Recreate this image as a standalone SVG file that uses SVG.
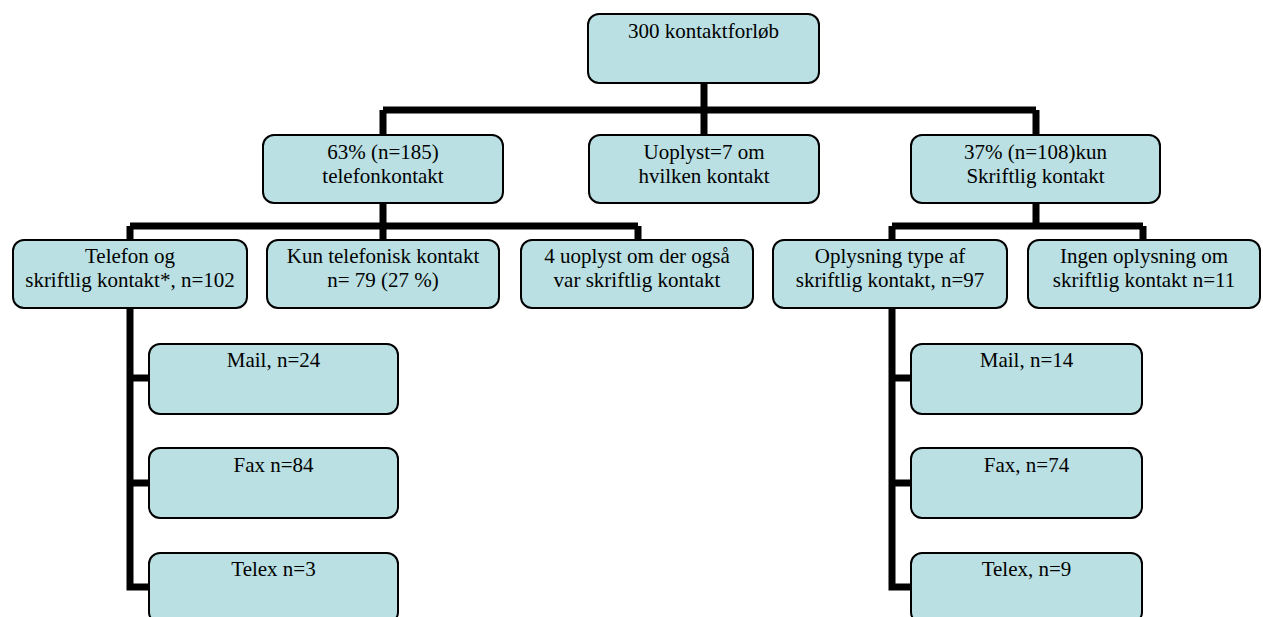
<svg xmlns="http://www.w3.org/2000/svg" width="1263" height="617" viewBox="0 0 1263 617">
<style>
.box{fill:#BAE0E3;stroke:#000;stroke-width:2}
.t{font-family:'Liberation Serif','DejaVu Serif',serif;font-size:21px;fill:#000;text-anchor:middle}
.c{fill:none;stroke:#000;stroke-width:7;stroke-linejoin:miter}
</style>
<rect width="1263" height="617" fill="#fff"/>
<g id="connectors">
<path class="c" d="M704,83 V110 M383,110 H1036 M383,110 V135 M704,110 V135 M1036,110 V135"/>
<path class="c" d="M383,203 V226 M130,226 H638 M130,226 V240 M383,226 V240 M638,226 V240"/>
<path class="c" d="M1036,203 V226 M892,226 H1143 M892,226 V240 M1143,226 V240"/>
<path class="c" d="M130,308 V590.5 M130,378 H149 M130,483 H149 M130,587 H149"/>
<path class="c" d="M892,308 V590.5 M892,378 H911 M892,483 H911 M892,587 H911"/>
</g>
<g id="n-root"><rect class="box" x="588" y="14" width="231" height="69" rx="11"/><text class="t" font-family="Liberation Serif, serif" x="703.5" y="38">300 kontaktforløb</text></g>
<g id="n-tel"><rect class="box" x="263" y="135" width="240" height="68" rx="11"/><text class="t" x="383" y="159">63% (n=185)</text><text class="t" x="383" y="183">telefonkontakt</text></g>
<g id="n-uop"><rect class="box" x="589" y="135" width="230" height="68" rx="11"/><text class="t" x="704" y="159">Uoplyst=7 om</text><text class="t" x="704" y="183">hvilken kontakt</text></g>
<g id="n-skr"><rect class="box" x="911" y="135" width="249" height="68" rx="11"/><text class="t" x="1035.5" y="159">37% (n=108)kun</text><text class="t" x="1035.5" y="183">Skriftlig kontakt</text></g>
<g id="n-telskr"><rect class="box" x="13" y="240" width="234" height="68" rx="11"/><text class="t" x="130" y="263">Telefon og</text><text class="t" x="130" y="287">skriftlig kontakt*, n=102</text></g>
<g id="n-kun"><rect class="box" x="267" y="240" width="232" height="68" rx="11"/><text class="t" x="383" y="263">Kun telefonisk kontakt</text><text class="t" x="383" y="287">n= 79 (27 %)</text></g>
<g id="n-4uop"><rect class="box" x="521" y="240" width="232" height="68" rx="11"/><text class="t" x="637" y="263">4 uoplyst om der også</text><text class="t" x="637" y="287">var skriftlig kontakt</text></g>
<g id="n-oply"><rect class="box" x="773" y="240" width="234" height="68" rx="11"/><text class="t" x="890" y="263">Oplysning type af</text><text class="t" x="890" y="287">skriftlig kontakt, n=97</text></g>
<g id="n-ingen"><rect class="box" x="1028" y="240" width="232" height="68" rx="11"/><text class="t" x="1144" y="263">Ingen oplysning om</text><text class="t" x="1144" y="287">skriftlig kontakt n=11</text></g>
<g id="n-mail1"><rect class="box" x="149" y="344" width="249" height="70" rx="11"/><text class="t" x="273.5" y="367">Mail, n=24</text></g>
<g id="n-fax1"><rect class="box" x="149" y="448" width="249" height="70" rx="11"/><text class="t" x="273.5" y="472">Fax n=84</text></g>
<g id="n-telex1"><rect class="box" x="149" y="553" width="249" height="70" rx="11"/><text class="t" x="273.5" y="576">Telex n=3</text></g>
<g id="n-mail2"><rect class="box" x="911" y="344" width="231" height="70" rx="11"/><text class="t" x="1026.5" y="367">Mail, n=14</text></g>
<g id="n-fax2"><rect class="box" x="911" y="448" width="231" height="70" rx="11"/><text class="t" x="1026.5" y="472">Fax, n=74</text></g>
<g id="n-telex2"><rect class="box" x="911" y="553" width="231" height="70" rx="11"/><text class="t" x="1026.5" y="576">Telex, n=9</text></g>
</svg>
